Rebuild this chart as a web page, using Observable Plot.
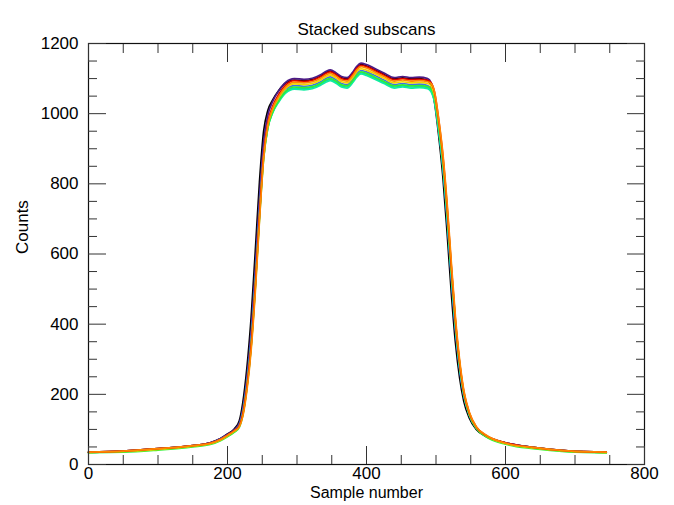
<!DOCTYPE html>
<html>
<head>
<meta charset="utf-8">
<script src="https://cdn.jsdelivr.net/npm/d3@7"></script>
<script src="https://cdn.jsdelivr.net/npm/@observablehq/plot@0.6"></script>
<style>
  html, body { margin: 0; padding: 0; background: #ffffff; }
  #chart svg { display: block; }
</style>
</head>
<body>
<div id="chart"></div>
<script>
// ---- data ----
const title = "Stacked subscans";
const xLabel = "Sample number";
const yLabel = "Counts";

const xTicks = [0, 200, 400, 600, 800];
const xMinorTicks = [50, 100, 150, 250, 300, 350, 450, 500, 550, 650, 700, 750];
const yTicks = [0, 200, 400, 600, 800, 1000, 1200];
const yMinorTicks = [50, 100, 150, 250, 300, 350, 450, 500, 550, 650, 700, 750, 850, 900, 950, 1050, 1100, 1150];

const samples = [0,50,100,150,175, 190,200,210,217,222, 228,234,240,246,252, 258,265,274,284,296,
  310,322,334,342,348, 356,364,372,380,386, 392,400,412,426,440, 452,464,476,488,493,
  498,504,510,516,522, 528,534,540,548,558, 572,600,640,690,745];

const scanNames = ["s1","s2","s3","s4","s5","s6","s7","s8","s9"];
const scanColors = ["#000000","#4c1a86","#3f6fe8","#00c8d8","#10eca0","#30f030","#f2d200","#e00000","#ff8800"];

const scanBlack = [35,38,45,54,62, 74,87,102,125,176, 277,419,608,805,950, 1009,1039,1067,1088,1096,
  1094,1097,1107,1117,1121, 1113,1102,1099,1114,1131, 1140,1136,1125,1111,1099, 1102,1099,1100,1095,1078,
  1030,935,817,660,490, 347,247,180,132,100, 80,62,49,39,35];
const scanPurple = [35,38,45,54,62, 74,86,100,118,160, 250,380,560,760,920, 995,1035,1066,1090,1100,
  1098,1101,1111,1121,1125, 1117,1106,1103,1118,1135, 1144,1140,1129,1115,1103, 1106,1103,1104,1100,1088,
  1050,960,850,700,530, 380,270,195,140,104, 82,62,49,39,35];
const scanBlue = [34,37,44,53,61, 73,84,97,114,152, 237,360,534,732,894, 972,1014,1045,1070,1080,
  1078,1081,1091,1101,1105, 1097,1086,1083,1098,1115, 1123,1119,1109,1095,1083, 1086,1083,1084,1080,1070,
  1036,951,845,700,533, 384,273,196,140,103, 81,61,48,38,34];
const scanCyan = [34,37,44,53,60, 71,83,96,111,145, 226,345,515,712,878, 961,1004,1037,1062,1073,
  1071,1074,1084,1094,1097, 1090,1079,1076,1091,1107, 1116,1112,1101,1088,1076, 1079,1076,1077,1074,1065,
  1035,953,850,709,543, 392,278,200,142,104, 81,60,48,38,34];
const scanMint = [34,37,44,52,60, 71,82,96,110,145, 226,344,514,710,875, 958,1002,1034,1059,1070,
  1068,1071,1081,1090,1094, 1087,1076,1073,1088,1104, 1113,1109,1098,1085,1073, 1076,1073,1074,1071,1062,
  1032,950,848,707,541, 391,277,199,141,104, 81,60,48,38,34];
const scanGreen = [34,35,41,50,57, 68,79,92,106,140, 218,334,501,699,871, 959,1005,1038,1064,1076,
  1074,1077,1087,1097,1100, 1093,1082,1079,1094,1110, 1119,1115,1104,1091,1079, 1082,1079,1080,1077,1070,
  1043,964,863,724,557, 404,287,202,142,103, 79,58,45,36,33];
const scanYellow = [34,37,43,52,59, 70,82,95,109,142, 220,336,505,705,878, 967,1013,1047,1073,1085,
  1083,1086,1096,1106,1110, 1102,1091,1088,1103,1120, 1128,1124,1114,1100,1088, 1091,1088,1089,1086,1079,
  1051,972,870,730,562, 407,289,206,145,106, 82,60,47,38,34];
const scanRed = [35,38,45,54,61, 72,84,97,111,143, 222,339,509,711,885, 975,1021,1056,1082,1094,
  1092,1095,1105,1115,1119, 1111,1100,1097,1112,1129, 1138,1134,1123,1109,1097, 1100,1097,1098,1095,1088,
  1060,980,878,736,567, 410,291,208,147,107, 83,62,49,39,35];
const scanOrange = [35,38,45,54,60, 71,83,96,108,137, 212,325,491,694,872, 967,1015,1050,1077,1090,
  1088,1091,1101,1111,1115, 1107,1096,1093,1108,1125, 1134,1130,1119,1105,1093, 1096,1093,1094,1091,1086,
  1062,984,885,746,578, 420,298,212,149,108, 84,61,49,39,35];

const scanValues = [scanBlack, scanPurple, scanBlue, scanCyan, scanMint, scanGreen, scanYellow, scanRed, scanOrange];

// ---- table for Plot ----
const rows = scanValues.flatMap((vals, k) =>
  samples.map((s, i) => ({sample: s, counts: vals[i], scan: scanNames[k]})));

const font = "'Liberation Sans', Arial, Helvetica, sans-serif";
const blank = () => "";
const plain = d => String(d);

const chart = Plot.plot({
  width: 674,
  height: 505,
  marginLeft: 88,
  marginRight: 30,
  marginTop: 43,
  marginBottom: 41,
  style: {fontFamily: font, fontSize: "17px", color: "#000", background: "#fff", overflow: "visible"},
  x: {domain: [0, 800], axis: null},
  y: {domain: [0, 1200], axis: null},
  color: {domain: scanNames, range: scanColors},
  marks: [
    Plot.line(rows, {x: "sample", y: "counts", z: "scan", stroke: "scan", strokeWidth: 1.7, curve: "monotone-x"}),
    Plot.frame({stroke: "#111", strokeWidth: 1.2}),
    // bottom axis
    Plot.axisX(xTicks, {anchor: "bottom", tickSize: 0, tickPadding: 2, tickFormat: plain, label: null, fontSize: 17}),
    Plot.axisX(xTicks, {anchor: "bottom", tickSize: -18, tickFormat: blank, label: null, stroke: "#333"}),
    Plot.axisX(xMinorTicks, {anchor: "bottom", tickSize: -9, tickFormat: blank, label: null, stroke: "#333"}),
    // top axis
    Plot.axisX(xTicks, {anchor: "top", tickSize: -18, tickFormat: blank, label: null, stroke: "#333"}),
    Plot.axisX(xMinorTicks, {anchor: "top", tickSize: -9, tickFormat: blank, label: null, stroke: "#333"}),
    // left axis
    Plot.axisY(yTicks, {anchor: "left", tickSize: 0, tickPadding: 10, tickFormat: plain, label: null, fontSize: 17}),
    Plot.axisY(yTicks, {anchor: "left", tickSize: -18, tickFormat: blank, label: null, stroke: "#333"}),
    Plot.axisY(yMinorTicks, {anchor: "left", tickSize: -9, tickFormat: blank, label: null, stroke: "#333"}),
    // right axis
    Plot.axisY(yTicks, {anchor: "right", tickSize: -18, tickFormat: blank, label: null, stroke: "#333"}),
    Plot.axisY(yMinorTicks, {anchor: "right", tickSize: -9, tickFormat: blank, label: null, stroke: "#333"}),
    // titles
    Plot.text([title], {frameAnchor: "top", dy: -21, fontSize: 17, fill: "#000"}),
    Plot.text([xLabel], {frameAnchor: "bottom", dy: 33, fontSize: 16, fill: "#000"}),
    Plot.text([yLabel], {frameAnchor: "left", dx: -66, rotate: -90, fontSize: 17, fill: "#000"})
  ]
});

document.getElementById("chart").appendChild(chart);
</script>
</body>
</html>
